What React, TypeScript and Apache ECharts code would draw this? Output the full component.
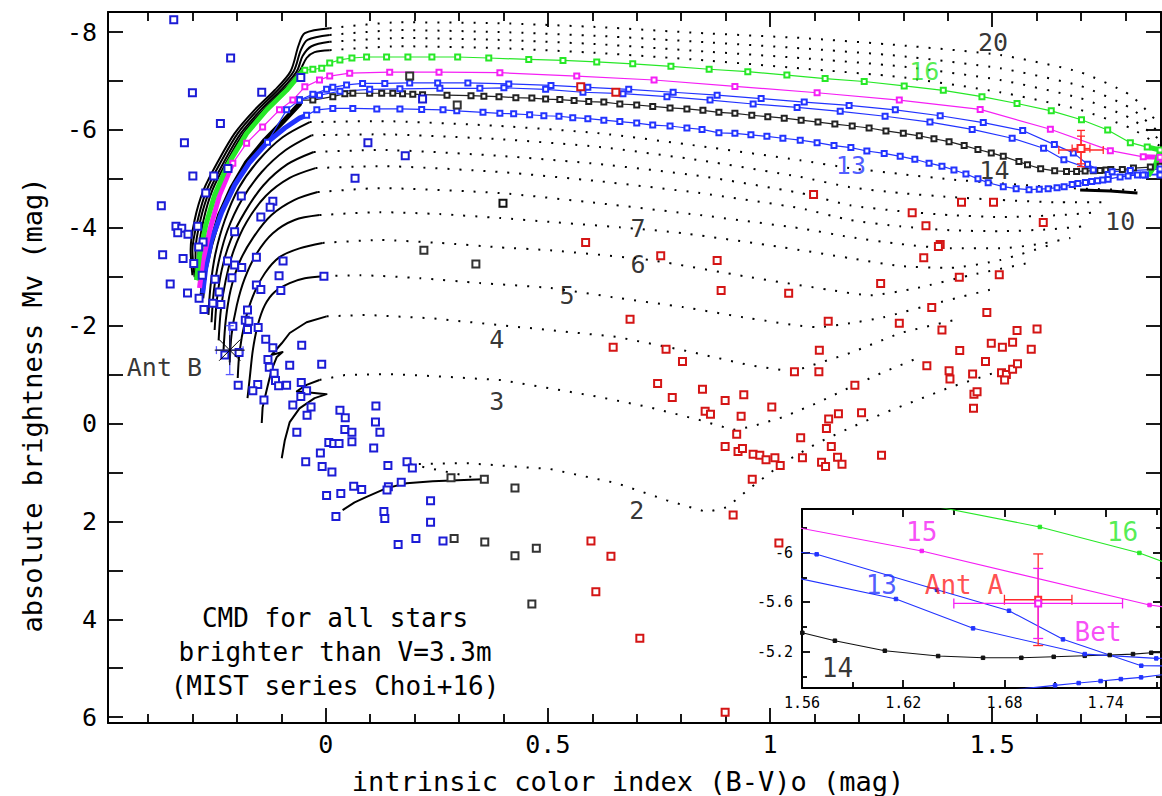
import React, { useEffect, useRef } from 'react';
import * as echarts from 'echarts';

type P = [number, number];
const FONT = 'DejaVu Sans Mono';

// ---------- axis ticks / labels ----------
const X_MAJOR = [0, 0.5, 1, 1.5];
const X_MINOR = [-0.4, -0.3, -0.2, -0.1, 0.1, 0.2, 0.3, 0.4, 0.6, 0.7, 0.8, 0.9, 1.1, 1.2, 1.3, 1.4, 1.6, 1.7, 1.8];
const Y_TICKS = [-8, -7, -6, -5, -4, -3, -2, -1, 0, 1, 2, 3, 4, 5, 6];
const Y_LABELS = [-8, -6, -4, -2, 0, 2, 4, 6];
const INSET_X_MAJOR = [1.56, 1.62, 1.68, 1.74];
const INSET_X_MINOR = [1.59, 1.65, 1.71, 1.77];
const INSET_Y_MAJOR = [-6, -5.6, -5.2];
const INSET_Y_MINOR = [-6.2, -5.8, -5.4, -5.0];

// ---------- stars ----------
const BLUE_STARS: P[] = [[-0.342,-8.25],[-0.214,-7.47],[-0.300,-6.76],[-0.144,-6.77],[-0.056,-7.07],[-0.237,-6.13],[-0.318,-5.74],[0.095,-5.74],[0.179,-5.47],[0.066,-5.01],[0.218,-6.63],[-0.299,-5.06],[-0.252,-5.06],[-0.220,-5.21],[-0.370,-4.45],[-0.270,-4.71],[-0.337,-4.03],[-0.324,-3.99],[-0.333,-3.90],[-0.310,-3.87],[-0.288,-4.03],[-0.190,-4.65],[-0.119,-4.54],[-0.125,-4.42],[-0.146,-4.22],[-0.205,-3.92],[-0.367,-3.45],[-0.321,-3.37],[-0.297,-3.27],[-0.276,-3.71],[-0.286,-3.61],[-0.221,-3.32],[-0.205,-3.24],[-0.189,-3.19],[-0.156,-3.40],[-0.096,-3.32],[-0.105,-3.02],[-0.004,-3.01],[-0.350,-2.85],[-0.311,-2.67],[-0.278,-3.03],[-0.249,-2.95],[-0.211,-2.98],[-0.156,-2.83],[-0.146,-2.74],[-0.101,-2.72],[-0.240,-2.69],[-0.285,-2.56],[-0.274,-2.33],[-0.254,-2.46],[-0.236,-2.43],[-0.176,-2.32],[-0.181,-2.11],[-0.173,-2.09],[-0.176,-1.92],[-0.152,-1.96],[-0.209,-1.99],[-0.135,-1.72],[-0.119,-1.55],[-0.054,-1.60],[-0.130,-1.31],[-0.127,-1.15],[-0.081,-1.19],[-0.009,-1.21],[-0.116,-1.03],[-0.113,-0.88],[-0.106,-0.77],[-0.088,-0.78],[-0.055,-0.84],[-0.153,-0.80],[-0.197,-0.78],[-0.164,-0.67],[-0.043,-0.67],[-0.056,-0.55],[-0.139,-0.48],[-0.074,-0.38],[-0.033,-0.34],[-0.042,-0.17],[0.032,-0.27],[0.044,-0.12],[0.113,-0.36],[0.112,-0.03],[0.122,0.18],[0.043,0.12],[0.059,0.18],[0.059,0.37],[0.108,0.50],[-0.065,0.18],[0.007,0.39],[0.018,0.41],[0.030,0.41],[-0.012,0.60],[-0.045,0.78],[-0.008,0.88],[0.014,0.99],[0.140,0.86],[0.183,0.78],[0.195,0.91],[0.063,1.28],[0.081,1.35],[0.141,1.29],[0.138,1.36],[0.170,1.20],[0.002,1.47],[0.034,1.43],[0.236,1.58],[0.023,1.90],[0.131,1.80],[0.133,1.94],[0.236,2.02],[0.163,2.47],[0.203,2.35],[0.264,2.40],[-0.227,-1.40],[-0.195,-1.45]];
const GRAY_STARS: P[] = [[0.189,-7.10],[0.296,-6.51],[0.221,-3.54],[0.338,-3.26],[0.282,1.11],[0.357,1.14],[0.426,1.32],[0.289,2.35],[0.358,2.42],[0.426,2.70],[0.474,2.55],[0.464,3.69]];
const GRAY_FILLED: P[] = [[0.399,-4.50]];
const RED_STARS: P[] = [[0.574,-6.88],[0.653,-6.77],[1.098,-4.68],[0.585,-3.70],[0.754,-3.43],[0.881,-3.33],[0.890,-2.72],[1.042,-2.66],[0.685,-2.13],[0.647,-1.56],[0.766,-1.52],[0.803,-1.27],[1.131,-2.09],[1.111,-1.50],[1.055,-1.06],[1.110,-1.06],[0.747,-0.82],[0.780,-0.53],[0.848,-0.70],[0.899,-0.47],[0.941,-0.59],[0.854,-0.25],[0.866,-0.19],[0.935,-0.15],[1.004,-0.34],[0.925,0.22],[0.899,0.47],[0.928,0.57],[0.938,0.51],[0.962,0.63],[0.977,0.65],[0.991,0.74],[1.011,0.70],[1.023,0.86],[0.960,1.14],[0.917,1.87],[1.069,0.29],[1.073,0.70],[1.127,0.10],[1.132,-0.09],[1.154,-0.20],[1.191,-0.78],[1.206,-0.22],[1.138,0.47],[1.152,0.69],[1.116,0.79],[1.125,0.88],[1.162,0.83],[1.251,0.65],[1.291,-2.05],[1.353,-1.18],[1.387,-1.91],[1.364,-2.37],[1.249,-2.86],[1.426,-2.99],[1.516,-3.04],[1.346,-3.39],[1.383,-3.66],[1.379,-3.62],[1.351,-4.04],[1.320,-4.31],[1.431,-4.52],[1.503,-4.52],[1.615,-4.11],[1.488,-2.27],[1.556,-1.90],[1.601,-1.93],[1.427,-1.49],[1.498,-1.64],[1.523,-1.56],[1.546,-1.66],[1.588,-1.52],[1.485,-1.27],[1.403,-1.08],[1.405,-0.91],[1.456,-1.01],[1.521,-1.04],[1.532,-1.00],[1.546,-1.11],[1.557,-1.22],[1.528,-0.89],[1.459,-0.60],[1.466,-0.65],[1.458,-0.31],[0.597,2.40],[0.642,2.71],[0.608,3.44],[0.707,4.39],[1.020,2.44],[0.899,5.90]];

// special stars: [x, y, xerr, yerr]
const ANT_A = [1.70, -5.62, 0.02, 0.37];
const BET = [1.70, -5.59, 0.05, 0.283];
const ANT_B = [-0.216, -1.50, 0.03, 0.50];

// ---------- MIST tracks (black, masses 2-12, 17-20) ----------
const T2_MS: P[] = [[0.038,1.77],[0.065,1.61],[0.092,1.50],[0.137,1.32],[0.182,1.22],[0.241,1.18],[0.297,1.16],[0.354,1.14]];
const T2_POST: P[] = [[0.354,1.14],[0.189,0.83],[0.318,0.81],[0.505,0.93],[0.655,1.22],[0.768,1.57],[0.858,1.81],[0.903,1.71],[0.955,1.32],[1.029,0.81],[1.106,0.40],[1.180,0.09],[1.255,-0.21],[1.405,-0.74],[1.570,-1.23]];
const T3_MS: P[] = [[-0.099,0.71],[-0.092,0.34],[-0.081,-0.03],[-0.059,-0.31],[-0.025,-0.52],[0.002,-0.60],[-0.065,-0.66],[-0.043,-0.79],[-0.014,-0.89]];
const T3_POST: P[] = [[-0.014,-0.89],[0.043,-0.99],[0.144,-1.01],[0.241,-0.97],[0.392,-0.89],[0.505,-0.72],[0.617,-0.54],[0.730,-0.33],[0.842,-0.07],[0.917,0.13],[0.955,0.07],[1.029,-0.13],[1.106,-0.42],[1.180,-0.74],[1.255,-1.05],[1.333,-1.34]];
const T4_MS: P[] = [[-0.144,-0.01],[-0.142,-0.33],[-0.133,-0.68],[-0.122,-1.09],[-0.110,-1.36],[-0.097,-1.46],[-0.122,-1.40],[-0.099,-1.64],[-0.081,-1.85],[-0.043,-2.07],[0.002,-2.19]];
const T4_POST: P[] = [[0.002,-2.19],[0.092,-2.22],[0.241,-2.15],[0.392,-2.01],[0.505,-1.91],[0.655,-1.77],[0.804,-1.50],[0.955,-1.19],[1.029,-1.09],[1.074,-1.13],[1.180,-1.44],[1.293,-1.85],[1.412,-2.11]];
const T5_MS: P[] = [[-0.176,-0.52],[-0.171,-0.93],[-0.164,-1.50],[-0.153,-2.01],[-0.137,-2.42],[-0.115,-2.69],[-0.081,-2.87],[-0.047,-2.97],[-0.005,-3.01]];
const T5_POST: P[] = [[-0.005,-3.01],[0.077,-3.03],[0.212,-2.97],[0.347,-2.87],[0.505,-2.77],[0.662,-2.56],[0.804,-2.38],[0.955,-2.15],[1.106,-1.97],[1.180,-2.05],[1.255,-2.17],[1.383,-2.48],[1.511,-2.77]];
const T6_MS: P[] = [[-0.198,-0.93],[-0.194,-1.46],[-0.182,-2.07],[-0.164,-2.60],[-0.137,-3.07],[-0.104,-3.40],[-0.059,-3.58],[-0.007,-3.69]];
const T6_POST: P[] = [[-0.007,-3.69],[0.122,-3.75],[0.257,-3.69],[0.392,-3.60],[0.505,-3.54],[0.730,-3.34],[0.955,-2.99],[1.135,-2.73],[1.225,-2.62],[1.331,-2.77],[1.450,-3.03],[1.592,-3.30]];
const T7_MS: P[] = [[-0.216,-1.25],[-0.212,-1.81],[-0.200,-2.42],[-0.182,-2.97],[-0.155,-3.48],[-0.119,-3.89],[-0.070,-4.16],[-0.014,-4.26]];
const T7_POST: P[] = [[-0.014,-4.26],[0.122,-4.32],[0.257,-4.28],[0.392,-4.20],[0.505,-4.12],[0.662,-4.01],[0.804,-3.89],[1.029,-3.60],[1.180,-3.38],[1.293,-3.22],[1.405,-3.18],[1.518,-3.34],[1.631,-3.65]];
const T8_MS: P[] = [[-0.230,-1.50],[-0.225,-2.11],[-0.214,-2.73],[-0.194,-3.30],[-0.164,-3.79],[-0.122,-4.26],[-0.070,-4.57],[-0.018,-4.73]];
const T8_POST: P[] = [[-0.018,-4.73],[0.122,-4.81],[0.392,-4.71],[0.617,-4.50],[0.842,-4.26],[1.068,-3.99],[1.180,-3.81],[1.293,-3.67],[1.405,-3.58],[1.518,-3.58],[1.608,-3.67],[1.676,-3.79]];
const T9_MS: P[] = [[-0.241,-1.70],[-0.236,-2.32],[-0.225,-2.93],[-0.207,-3.54],[-0.178,-4.12],[-0.135,-4.65],[-0.081,-5.02],[-0.023,-5.22]];
const T9_POST: P[] = [[-0.023,-5.22],[0.122,-5.26],[0.392,-5.14],[0.617,-4.95],[0.842,-4.71],[1.068,-4.40],[1.180,-4.16],[1.293,-4.03],[1.405,-3.95],[1.518,-3.93],[1.631,-3.97],[1.705,-4.03]];
const T10_MS: P[] = [[-0.250,-1.91],[-0.245,-2.52],[-0.234,-3.14],[-0.214,-3.75],[-0.182,-4.32],[-0.140,-4.87],[-0.086,-5.30],[-0.027,-5.55]];
const T10_POST: P[] = [[-0.027,-5.55],[0.122,-5.59],[0.392,-5.47],[0.617,-5.30],[0.842,-5.06],[1.068,-4.71],[1.180,-4.46],[1.293,-4.34],[1.405,-4.26],[1.518,-4.22],[1.653,-4.26],[1.743,-4.32]];
const T11_MS: P[] = [[-0.257,-2.07],[-0.252,-2.69],[-0.241,-3.30],[-0.221,-3.95],[-0.189,-4.57],[-0.144,-5.14],[-0.090,-5.59],[-0.032,-5.89]];
const T11_POST: P[] = [[-0.032,-5.89],[0.122,-5.91],[0.392,-5.81],[0.617,-5.65],[0.842,-5.38],[1.068,-5.04],[1.180,-4.83],[1.293,-4.71],[1.405,-4.63],[1.518,-4.57],[1.653,-4.52],[1.766,-4.52]];
const T12_MS: P[] = [[-0.264,-2.22],[-0.259,-2.83],[-0.248,-3.48],[-0.227,-4.16],[-0.196,-4.81],[-0.151,-5.38],[-0.097,-5.85],[-0.036,-6.16]];
const T12_POST: P[] = [[-0.036,-6.16],[0.122,-6.18],[0.392,-6.08],[0.617,-5.93],[0.842,-5.67],[1.068,-5.38],[1.180,-5.22],[1.293,-5.10],[1.405,-4.99],[1.518,-4.91],[1.676,-4.81],[1.827,-4.77]];
const T17_MS: P[] = [[-0.288,-2.93],[-0.286,-3.54],[-0.275,-4.16],[-0.255,-4.77],[-0.221,-5.38],[-0.185,-5.93],[-0.140,-6.41],[-0.095,-6.81],[-0.059,-7.20],[-0.043,-7.47],[-0.025,-7.59],[0.009,-7.63]];
const T17_POST: P[] = [[0.009,-7.63],[0.167,-7.71],[0.392,-7.67],[0.617,-7.57],[0.842,-7.43],[1.068,-7.26],[1.293,-7.08],[1.518,-6.77],[1.698,-6.41],[1.811,-6.04],[1.878,-5.67]];
const T18_MS: P[] = [[-0.293,-2.95],[-0.293,-3.54],[-0.282,-4.16],[-0.261,-4.77],[-0.227,-5.38],[-0.191,-5.93],[-0.146,-6.41],[-0.101,-6.81],[-0.065,-7.20],[-0.052,-7.51],[-0.032,-7.71],[0.009,-7.80]];
const T18_POST: P[] = [[0.009,-7.80],[0.167,-7.88],[0.392,-7.84],[0.617,-7.75],[0.842,-7.61],[1.068,-7.47],[1.293,-7.30],[1.518,-7.02],[1.698,-6.65],[1.811,-6.24],[1.878,-5.79]];
const T19_MS: P[] = [[-0.295,-2.99],[-0.300,-3.54],[-0.288,-4.16],[-0.268,-4.77],[-0.234,-5.38],[-0.198,-5.93],[-0.153,-6.41],[-0.108,-6.81],[-0.072,-7.20],[-0.056,-7.63],[-0.041,-7.84],[0.009,-7.94]];
const T19_POST: P[] = [[0.009,-7.94],[0.167,-8.04],[0.392,-8.00],[0.617,-7.92],[0.842,-7.80],[1.068,-7.67],[1.293,-7.51],[1.518,-7.26],[1.698,-6.90],[1.811,-6.45],[1.878,-5.93]];
const T20_MS: P[] = [[-0.300,-3.03],[-0.304,-3.54],[-0.295,-4.16],[-0.275,-4.77],[-0.241,-5.38],[-0.205,-5.93],[-0.160,-6.41],[-0.115,-6.81],[-0.079,-7.20],[-0.061,-7.73],[-0.047,-7.98],[0.009,-8.08]];
const T20_POST: P[] = [[0.009,-8.08],[0.167,-8.20],[0.392,-8.18],[0.617,-8.10],[0.842,-7.98],[1.068,-7.88],[1.293,-7.73],[1.518,-7.53],[1.698,-7.18],[1.811,-6.71],[1.878,-6.10]];

// ---------- highlighted tracks (13, 14, 15, 16) ----------
const G16_MS: P[] = [[-0.291,-2.93],[-0.284,-3.44],[-0.270,-4.05],[-0.250,-4.67],[-0.221,-5.28],[-0.178,-5.93],[-0.133,-6.41],[-0.088,-6.81],[-0.052,-7.20],[-0.047,-7.22]];
const G16_POST: P[] = [[-0.047,-7.22],[-0.029,-7.24],[-0.009,-7.26],[0.009,-7.37],[0.032,-7.43],[0.059,-7.47],[0.092,-7.49],[0.137,-7.49],[0.185,-7.49],[0.239,-7.49],[0.297,-7.49],[0.367,-7.47],[0.457,-7.44],[0.534,-7.42],[0.610,-7.39],[0.691,-7.35],[0.777,-7.30],[0.863,-7.24],[0.950,-7.19],[1.038,-7.12],[1.124,-7.05],[1.212,-6.99],[1.302,-6.90],[1.390,-6.81],[1.477,-6.68],[1.556,-6.54],[1.633,-6.39],[1.701,-6.208],[1.760,-5.998],[1.811,-5.74],[1.849,-5.65],[1.878,-5.59]];
const G16_END: P[] = [[1.849,-5.65],[1.878,-5.59],[1.867,-5.28],[1.851,-5.06]];
const M15_MS: P[] = [[-0.284,-2.77],[-0.277,-3.30],[-0.261,-3.95],[-0.239,-4.67],[-0.209,-5.32]];
const M15_POST: P[] = [[-0.209,-5.32],[-0.178,-5.73],[-0.142,-6.06],[-0.104,-6.41],[-0.074,-6.61],[-0.047,-6.88],[-0.014,-7.02],[0.009,-7.10],[0.054,-7.16],[0.144,-7.18],[0.255,-7.18],[0.392,-7.17],[0.565,-7.10],[0.739,-7.02],[0.921,-6.89],[1.106,-6.76],[1.291,-6.61],[1.473,-6.42],[1.631,-6.014],[1.766,-5.577],[1.840,-5.45],[1.878,-5.44]];
const M15_END: P[] = [[1.840,-5.45],[1.878,-5.44],[1.874,-5.18]];
const B13_MS: P[] = [[-0.277,-2.66],[-0.270,-3.18],[-0.257,-3.75],[-0.234,-4.32],[-0.205,-4.87],[-0.171,-5.34],[-0.131,-5.75],[-0.092,-6.04],[-0.059,-6.24],[-0.043,-6.30]];
const B13_POST: P[] = [[-0.043,-6.30],[-0.020,-6.41],[0.016,-6.44],[0.061,-6.44],[0.115,-6.43],[0.167,-6.43],[0.216,-6.42],[0.264,-6.41],[0.295,-6.39],[0.354,-6.36],[0.392,-6.34],[0.423,-6.33],[0.459,-6.31],[0.491,-6.29],[0.525,-6.28],[0.556,-6.25],[0.590,-6.23],[0.626,-6.20],[0.662,-6.17],[0.700,-6.14],[0.736,-6.10],[0.775,-6.08],[0.813,-6.04],[0.847,-6.01],[0.885,-5.94],[0.921,-5.93],[0.957,-5.90],[0.993,-5.87],[1.029,-5.83],[1.068,-5.79],[1.106,-5.74],[1.144,-5.68],[1.182,-5.64],[1.218,-5.57],[1.257,-5.52],[1.293,-5.46],[1.326,-5.40],[1.358,-5.32],[1.387,-5.26],[1.414,-5.18],[1.441,-5.10],[1.468,-5.00],[1.491,-4.92],[1.525,-4.84],[1.554,-4.80],[1.583,-4.78],[1.606,-4.79],[1.626,-4.80],[1.646,-4.82],[1.662,-4.84],[1.680,-4.885],[1.693,-4.904],[1.710,-4.928],[1.724,-4.947],[1.737,-4.963],[1.749,-4.979],[1.761,-4.993],[1.788,-5.04],[1.806,-5.06],[1.827,-5.08],[1.845,-5.08],[1.878,-5.10]];
const BA_POST: P[] = [[-0.131,-5.75],[-0.088,-6.41],[-0.059,-6.61],[-0.029,-6.73],[0.002,-6.83],[0.016,-6.87],[0.047,-6.92],[0.083,-6.95],[0.133,-6.95],[0.189,-6.96],[0.252,-6.96],[0.320,-6.96],[0.412,-6.94],[0.507,-6.91],[0.590,-6.87],[0.682,-6.83],[0.782,-6.77],[0.881,-6.71],[0.980,-6.64],[1.077,-6.57],[1.178,-6.50],[1.282,-6.41],[1.383,-6.29],[1.480,-6.15],[1.5687,-5.987],[1.640,-5.70],[1.6827,-5.531],[1.7147,-5.300],[1.7611,-5.087],[1.840,-5.08],[1.878,-5.08]];
const BB_POST: P[] = [[-0.059,-6.61],[-0.014,-6.71],[0.032,-6.79],[0.099,-6.83],[0.167,-6.84],[0.257,-6.85],[0.347,-6.85],[0.401,-6.86],[0.495,-6.83],[0.579,-6.77],[0.669,-6.74],[0.768,-6.68],[0.865,-6.61],[0.962,-6.53],[1.061,-6.46],[1.158,-6.38],[1.259,-6.28],[1.360,-6.16],[1.455,-6.01],[1.545,-5.83],[1.6157,-5.626],[1.6614,-5.389],[1.7276,-5.181],[1.77,-5.146],[1.811,-5.17],[1.878,-5.20]];
const K14_MS: P[] = [[-0.279,-2.56],[-0.273,-3.09],[-0.259,-3.65],[-0.239,-4.26],[-0.212,-4.81],[-0.178,-5.34],[-0.137,-5.79],[-0.097,-6.16],[-0.059,-6.53],[-0.059,-6.61]];
const K14_POST: P[] = [[-0.059,-6.61],[-0.029,-6.61],[0.016,-6.68],[0.043,-6.74],[0.061,-6.75],[0.099,-6.75],[0.126,-6.75],[0.151,-6.75],[0.173,-6.74],[0.196,-6.73],[0.218,-6.72],[0.273,-6.71],[0.327,-6.70],[0.356,-6.69],[0.390,-6.68],[0.428,-6.66],[0.464,-6.65],[0.495,-6.63],[0.527,-6.62],[0.559,-6.60],[0.592,-6.58],[0.626,-6.57],[0.662,-6.53],[0.700,-6.51],[0.736,-6.48],[0.775,-6.45],[0.813,-6.43],[0.849,-6.40],[0.885,-6.36],[0.921,-6.34],[0.959,-6.30],[0.995,-6.27],[1.032,-6.24],[1.070,-6.20],[1.108,-6.16],[1.146,-6.12],[1.185,-6.08],[1.223,-6.04],[1.261,-5.98],[1.300,-5.93],[1.336,-5.88],[1.369,-5.82],[1.403,-5.76],[1.437,-5.68],[1.468,-5.60],[1.498,-5.53],[1.525,-5.46],[1.5602,-5.353],[1.5795,-5.289],[1.6091,-5.208],[1.6407,-5.165],[1.6673,-5.151],[1.690,-5.151],[1.7092,-5.159],[1.7276,-5.167],[1.7424,-5.173],[1.7562,-5.181],[1.767,-5.192],[1.793,-5.19],[1.818,-5.22],[1.856,-5.24],[1.878,-5.26]];
const K14_LOOP: P[] = [[1.698,-4.77],[1.766,-4.75],[1.827,-4.71]];

// ---------- labels [text, x, y, colour key] ----------
const MAIN_TAGS: [string, number, number, string][] = [
  ['20', 1.502, -7.79, 'k'], ['16', 1.347, -7.20, 'g'], ['13', 1.182, -5.28, 'b'], ['14', 1.505, -5.18, 'k'],
  ['10', 1.788, -4.12, 'k'], ['7', 0.703, -3.99, 'k'], ['6', 0.703, -3.24, 'k'], ['5', 0.543, -2.62, 'k'],
  ['4', 0.385, -1.72, 'k'], ['3', 0.385, -0.44, 'k'], ['2', 0.700, 1.77, 'k'], ['Ant B', -0.363, -1.15, 'k'],
];
const INSET_TAGS: [string, number, number, string][] = [
  ['15', 1.631, -6.167, 'm'], ['16', 1.750, -6.167, 'g'], ['13', 1.607, -5.739, 'b'],
  ['Ant A', 1.656, -5.739, 'r'], ['Bet', 1.7355, -5.359, 'm'], ['14', 1.581, -5.068, 'k'],
];
const NOTE_LINES = ['CMD for all stars', 'brighter than V=3.3m', '(MIST series Choi+16)'];

const COL: Record<string, string> = { k: '#000000', g: '#27e827', m: '#f51ff5', b: '#2233ff', r: '#ff2222' };

const BLACK_TRACKS = [
  { ms: T2_MS, post: T2_POST, sm: 0 }, { ms: T3_MS, post: T3_POST, sm: 0 }, { ms: T4_MS, post: T4_POST, sm: 0 },
  { ms: T5_MS, post: T5_POST, sm: 0.3 }, { ms: T6_MS, post: T6_POST, sm: 0.3 }, { ms: T7_MS, post: T7_POST, sm: 0.3 },
  { ms: T8_MS, post: T8_POST, sm: 0.3 }, { ms: T9_MS, post: T9_POST, sm: 0.3 }, { ms: T10_MS, post: T10_POST, sm: 0.3 },
  { ms: T11_MS, post: T11_POST, sm: 0.3 }, { ms: T12_MS, post: T12_POST, sm: 0.3 }, { ms: T17_MS, post: T17_POST, sm: 0.3 },
  { ms: T18_MS, post: T18_POST, sm: 0.3 }, { ms: T19_MS, post: T19_POST, sm: 0.3 }, { ms: T20_MS, post: T20_POST, sm: 0.3 },
];

function buildOption() {
  const series: any[] = [];
  const line = (data: P[], color: string, width: number, o: any = {}) => ({
    type: 'line', data, xAxisIndex: o.xi ?? 0, yAxisIndex: o.yi ?? 0, silent: true, clip: true,
    symbol: o.symbol ?? 'none', symbolSize: o.symbolSize ?? 5, showSymbol: !!o.symbol,
    smooth: o.smooth ?? false, z: o.z ?? 2,
    itemStyle: { color, borderColor: color, borderWidth: o.bw ?? 1 },
    lineStyle: { color, width, type: o.dash ?? 'solid', cap: 'butt', join: 'round' },
  });

  BLACK_TRACKS.forEach((t) => {
    series.push(line(t.ms, '#000', 2, { smooth: t.sm }));
    series.push(line(t.post, '#000', 2, { dash: [2, 10], smooth: t.sm ? 0.2 : false }));
  });
  series.push(line(K14_LOOP, '#000', 3));

  // highlighted tracks (main)
  series.push(line(K14_MS, COL.k, 5, { z: 3 }));
  series.push(line(K14_POST, '#222', 1.2, { symbol: 'emptyRect', symbolSize: 5, z: 3 }));
  series.push(line(B13_MS, COL.b, 5, { z: 3 }));
  series.push(line(B13_POST, COL.b, 1.2, { symbol: 'emptyRect', symbolSize: 5, z: 3 }));
  series.push(line(BA_POST, COL.b, 1.2, { symbol: 'emptyRect', symbolSize: 5, z: 3 }));
  series.push(line(BB_POST, COL.b, 1.2, { symbol: 'emptyRect', symbolSize: 5, z: 3 }));
  series.push(line(M15_MS, COL.m, 5, { z: 3 }));
  series.push(line(M15_POST, COL.m, 1.2, { symbol: 'emptyRect', symbolSize: 5, z: 3 }));
  series.push(line(M15_END, COL.m, 5, { z: 3 }));
  series.push(line(G16_MS, COL.g, 5, { z: 3 }));
  series.push(line(G16_POST, COL.g, 1.2, { symbol: 'emptyRect', symbolSize: 5, z: 3 }));
  series.push(line(G16_END, COL.g, 5, { z: 3 }));

  const stars = (data: P[], color: string, size: number, bw: number) => ({
    type: 'scatter', data, xAxisIndex: 0, yAxisIndex: 0, silent: true, symbol: 'emptyRect', symbolSize: size, z: 4,
    itemStyle: { color, borderColor: color, borderWidth: bw, opacity: 1 },
  });
  series.push(stars(BLUE_STARS, '#1c1cd6', 7, 1.5));
  series.push(stars(GRAY_STARS, '#333', 7, 1.3));
  series.push(stars(GRAY_FILLED, '#111', 7, 3));
  series.push(stars(RED_STARS, '#d41515', 7, 1.5));

  const errSeries = (data: number[][], colors: string[], xi: number, yi: number, cap: number, z: number) => ({
    type: 'custom', xAxisIndex: xi, yAxisIndex: yi, data, z, silent: true, clip: false,
    dimensions: ['x', 'y', 'ex', 'ey'], encode: { x: 0, y: 1 },
    renderItem: (params: any, api: any) => {
      const x = api.value(0), y = api.value(1), ex = api.value(2), ey = api.value(3);
      const st = { stroke: colors[params.dataIndex], lineWidth: 1.3 };
      const l = api.coord([x - ex, y]), r = api.coord([x + ex, y]);
      const t = api.coord([x, y - ey]), b = api.coord([x, y + ey]);
      const seg = (x1: number, y1: number, x2: number, y2: number) => ({ type: 'line', shape: { x1, y1, x2, y2 }, style: st });
      return {
        type: 'group', children: [
          seg(l[0], l[1], r[0], r[1]), seg(t[0], t[1], b[0], b[1]),
          seg(l[0], l[1] - cap, l[0], l[1] + cap), seg(r[0], r[1] - cap, r[0], r[1] + cap),
          seg(t[0] - cap, t[1], t[0] + cap, t[1]), seg(b[0] - cap, b[1], b[0] + cap, b[1]),
        ],
      };
    },
  });
  series.push(errSeries([ANT_A, BET], ['#ff2a2a', '#ff2a2a'], 0, 0, 4, 6));
  series.push({ type: 'scatter', data: [[ANT_A[0], ANT_A[1]]], xAxisIndex: 0, yAxisIndex: 0, symbol: 'emptyRect', symbolSize: 7, silent: true, z: 6, itemStyle: { color: '#ff2a2a', borderColor: '#ff2a2a', borderWidth: 1.5, opacity: 1 } });
  series.push(errSeries([ANT_B], ['#5b5bff'], 0, 0, 4, 6));
  series.push({
    type: 'scatter', data: [[ANT_B[0], ANT_B[1]]], xAxisIndex: 0, yAxisIndex: 0, silent: true, z: 6,
    symbol: 'path://M0,12L24,12M12,0L12,24M3.5,3.5L20.5,20.5M20.5,3.5L3.5,20.5', symbolSize: 30,
    itemStyle: { color: 'rgba(0,0,0,0)', borderColor: '#000', borderWidth: 1, opacity: 1 },
  });

  const tags = (list: [string, number, number, string][], xi: number, yi: number, fs: number, z: number) => ({
    type: 'scatter', xAxisIndex: xi, yAxisIndex: yi, silent: true, z, symbolSize: 1,
    itemStyle: { color: 'rgba(0,0,0,0)' },
    data: list.map(([t, x, y, c]) => ({ name: t, value: [x, y], label: { color: COL[c] } })),
    label: { show: true, position: 'inside', formatter: '{b}', fontSize: fs, fontFamily: FONT },
  });
  series.push(tags(MAIN_TAGS, 0, 0, 25, 7));

  // inset series
  const IX = 4, IY = 2, IZ = 12;
  series.push(line(K14_POST, '#111', 1.1, { xi: IX, yi: IY, symbol: 'rect', symbolSize: 3.5, z: IZ }));
  series.push(line(B13_POST, COL.b, 1.1, { xi: IX, yi: IY, symbol: 'rect', symbolSize: 3.5, z: IZ }));
  series.push(line(BA_POST, COL.b, 1.1, { xi: IX, yi: IY, symbol: 'rect', symbolSize: 3.5, z: IZ }));
  series.push(line(BB_POST, COL.b, 1.1, { xi: IX, yi: IY, symbol: 'rect', symbolSize: 3.5, z: IZ }));
  series.push(line(M15_POST, COL.m, 1.1, { xi: IX, yi: IY, symbol: 'rect', symbolSize: 3.5, z: IZ }));
  series.push(line(G16_POST, COL.g, 1.1, { xi: IX, yi: IY, symbol: 'rect', symbolSize: 3.5, z: IZ }));
  series.push(errSeries([ANT_A, BET], ['#ff2a2a', COL.m], IX, IY, 5, IZ + 1));
  series.push({ type: 'scatter', data: [[ANT_A[0], ANT_A[1]]], xAxisIndex: IX, yAxisIndex: IY, symbol: 'emptyRect', symbolSize: 6, silent: true, z: IZ + 1, itemStyle: { color: '#ff2a2a', borderColor: '#ff2a2a', borderWidth: 1.3, opacity: 1 } });
  series.push({ type: 'scatter', data: [[BET[0], BET[1]]], xAxisIndex: IX, yAxisIndex: IY, symbol: 'emptyRect', symbolSize: 6, silent: true, z: IZ + 1, itemStyle: { color: COL.m, borderColor: COL.m, borderWidth: 1.3, opacity: 1 } });
  series.push(tags(INSET_TAGS, IX, IY, 26, IZ + 2));

  const frame = { show: true, onZero: false, lineStyle: { color: '#000', width: 2 } };
  const noLine = { show: false, onZero: false };
  const xAx = (grid: number, pos: string, min: number, max: number, ticks: number[], len: number, labels: number[] | null, line: boolean, fs: number, margin: number, z: number, fmt: (v: number) => string) => ({
    type: 'value', gridIndex: grid, position: pos, min, max, z,
    axisLine: line ? frame : noLine,
    axisTick: { show: true, inside: true, length: len, customValues: ticks, lineStyle: { color: '#000', width: 1.8 } },
    axisLabel: labels ? { show: true, customValues: labels, formatter: fmt, fontSize: fs, fontFamily: FONT, color: '#000', margin } : { show: false },
    splitLine: { show: false }, minorTick: { show: false },
  });
  const fmtInt = (v: number) => String(Math.round(v * 10) / 10);
  const fmt2 = (v: number) => v.toFixed(2);

  const XMIN = -0.49, XMAX = 1.88, YMIN = -8.41, YMAX = 6.12;
  const IXMIN = 1.56, IXMAX = 1.7728, IYMIN = -6.353, IYMAX = -4.907;

  const xAxis = [
    xAx(0, 'bottom', XMIN, XMAX, X_MAJOR, 15, X_MAJOR, true, 25, 9, 1, fmtInt),
    xAx(0, 'top', XMIN, XMAX, X_MAJOR, 15, null, true, 25, 9, 1, fmtInt),
    xAx(0, 'bottom', XMIN, XMAX, X_MINOR, 9, null, false, 25, 9, 1, fmtInt),
    xAx(0, 'top', XMIN, XMAX, X_MINOR, 9, null, false, 25, 9, 1, fmtInt),
    xAx(1, 'bottom', IXMIN, IXMAX, INSET_X_MAJOR, 8, INSET_X_MAJOR, true, 15, 7, 11, fmt2),
    xAx(1, 'top', IXMIN, IXMAX, INSET_X_MAJOR, 8, null, true, 15, 7, 11, fmt2),
    xAx(1, 'bottom', IXMIN, IXMAX, INSET_X_MINOR, 6, null, false, 15, 7, 11, fmt2),
    xAx(1, 'top', IXMIN, IXMAX, INSET_X_MINOR, 6, null, false, 15, 7, 11, fmt2),
  ];
  const yAx = (grid: number, pos: string, min: number, max: number, ticks: number[], len: number, labels: number[] | null, line: boolean, fs: number, margin: number, z: number) => ({
    ...xAx(grid, pos, min, max, ticks, len, labels, line, fs, margin, z, fmtInt), inverse: true,
  });
  const yAxis = [
    yAx(0, 'left', YMIN, YMAX, Y_TICKS, 15, Y_LABELS, true, 25, 11, 1),
    yAx(0, 'right', YMIN, YMAX, Y_TICKS, 15, null, true, 25, 11, 1),
    yAx(1, 'left', IYMIN, IYMAX, INSET_Y_MAJOR, 8, INSET_Y_MAJOR, true, 15, 9, 11),
    yAx(1, 'right', IYMIN, IYMAX, INSET_Y_MAJOR, 8, null, true, 15, 9, 11),
    yAx(1, 'left', IYMIN, IYMAX, INSET_Y_MINOR, 5, null, false, 15, 9, 11),
    yAx(1, 'right', IYMIN, IYMAX, INSET_Y_MINOR, 5, null, false, 15, 9, 11),
  ];

  const txt = (text: string, x: number, y: number, size: number, rot = 0) => ({
    type: 'text', x, y, rotation: rot, z: 50, silent: true,
    style: { text, fill: '#000', font: `${size}px "${FONT}"`, align: 'center', verticalAlign: 'middle' },
  });

  return {
    animation: false,
    backgroundColor: '#fff',
    grid: [
      { left: 108, top: 12, width: 1053, height: 711, containLabel: false, outerBoundsMode: 'none', z: 0 },
      { left: 802, top: 509, width: 359, height: 179, containLabel: false, outerBoundsMode: 'none', show: true, backgroundColor: '#fff', borderWidth: 0, z: 10 },
    ],
    xAxis, yAxis, series,
    graphic: [
      txt('absolute brightness Mv (mag)', 32, 405, 27, Math.PI / 2),
      txt('intrinsic color index (B-V)o (mag)', 628, 781, 27),
      ...NOTE_LINES.map((s, i) => txt(s, 335, 618 + 34 * i, 26)),
    ],
  };
}

export default function App() {
  const ref = useRef<HTMLDivElement>(null);
  useEffect(() => {
    if (!ref.current) return;
    const chart = echarts.init(ref.current, null, { renderer: 'svg' });
    chart.setOption(buildOption() as any);
    return () => chart.dispose();
  }, []);
  return <div ref={ref} style={{ position: 'absolute', left: 0, top: 0, width: 1162, height: 796, background: '#fff' }} />;
}
